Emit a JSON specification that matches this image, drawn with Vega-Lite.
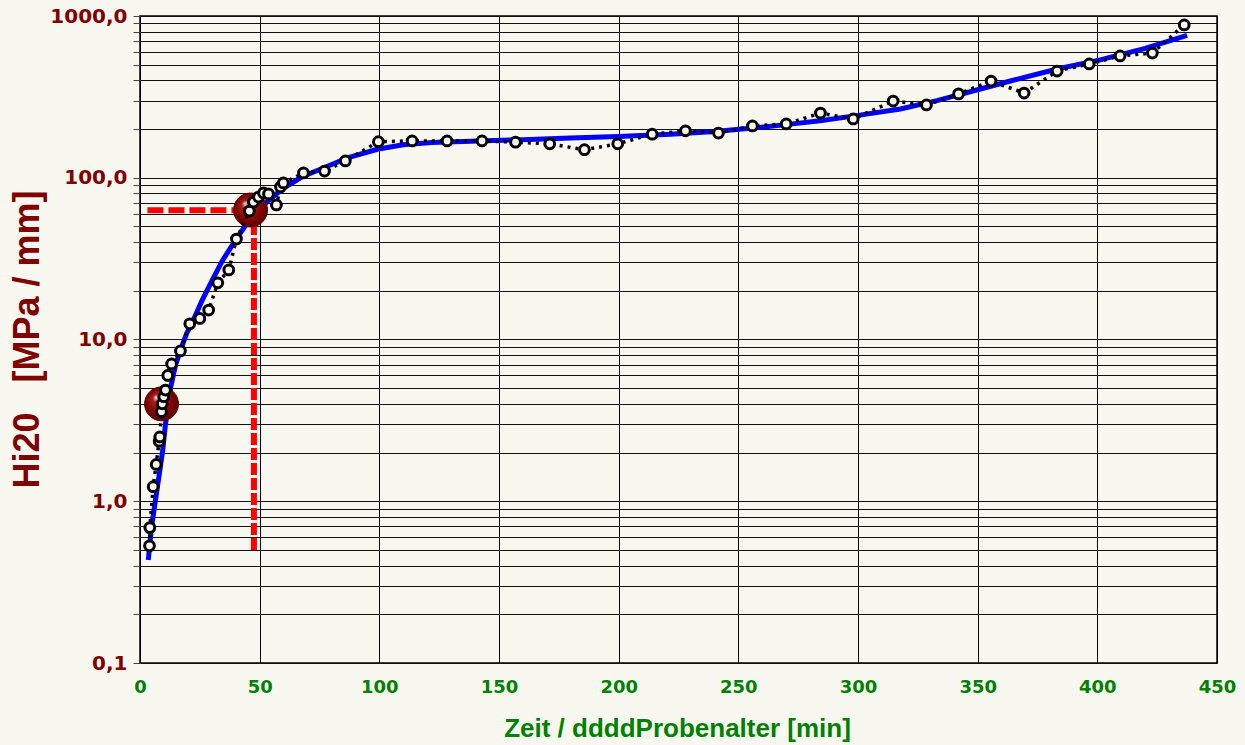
{
  "$schema": "https://vega.github.io/schema/vega-lite/v6.json",
  "width": 1077,
  "height": 647,
  "autosize": "none",
  "padding": {"left": 140, "top": 16, "right": 28, "bottom": 82},
  "background": "#F9F8F0",
  "config": {
    "view": {"stroke": "#000", "strokeWidth": 1.5}
  },
  "datasets": {
    "pts": [
      {"t": 3.97, "h": 0.53}, {"t": 4.1, "h": 0.687}, {"t": 5.5, "h": 1.23}, {"t": 6.77, "h": 1.69},
      {"t": 8.0, "h": 2.35}, {"t": 8.27, "h": 2.5}, {"t": 8.98, "h": 3.58}, {"t": 9.3, "h": 4.0},
      {"t": 9.94, "h": 4.43}, {"t": 10.65, "h": 4.87}, {"t": 11.6, "h": 6.0}, {"t": 13.2, "h": 7.06},
      {"t": 16.9, "h": 8.5}, {"t": 20.8, "h": 12.5}, {"t": 25.0, "h": 13.5}, {"t": 28.7, "h": 15.2},
      {"t": 32.5, "h": 22.4}, {"t": 37.1, "h": 26.9}, {"t": 40.3, "h": 41.8}, {"t": 45.7, "h": 62.2},
      {"t": 47.4, "h": 70.8}, {"t": 49.5, "h": 76}, {"t": 51.6, "h": 80.5}, {"t": 53.7, "h": 79.4},
      {"t": 57.0, "h": 67.9}, {"t": 58.7, "h": 87.7}, {"t": 59.9, "h": 92.9}, {"t": 68.3, "h": 107},
      {"t": 77.1, "h": 110}, {"t": 85.8, "h": 127}, {"t": 99.6, "h": 167}, {"t": 113.7, "h": 169},
      {"t": 128.3, "h": 169}, {"t": 142.9, "h": 169}, {"t": 156.9, "h": 166}, {"t": 171.2, "h": 162},
      {"t": 185.7, "h": 149}, {"t": 199.6, "h": 162}, {"t": 214.0, "h": 186}, {"t": 227.9, "h": 195},
      {"t": 241.7, "h": 189}, {"t": 255.9, "h": 209}, {"t": 270.0, "h": 215}, {"t": 284.3, "h": 251},
      {"t": 298.0, "h": 231}, {"t": 314.7, "h": 298}, {"t": 328.6, "h": 282}, {"t": 342.0, "h": 330},
      {"t": 355.6, "h": 396}, {"t": 369.4, "h": 334}, {"t": 383.2, "h": 457}, {"t": 396.6, "h": 505},
      {"t": 409.5, "h": 566}, {"t": 423.0, "h": 590}, {"t": 436.3, "h": 880}
    ],
    "fit": [
      {"t": 3.47, "h": 0.434}, {"t": 4.68, "h": 0.664}, {"t": 6.3, "h": 0.98}, {"t": 7.85, "h": 1.4},
      {"t": 9.5, "h": 2.07}, {"t": 10.65, "h": 3.0}, {"t": 12.74, "h": 5.0}, {"t": 14.8, "h": 6.9},
      {"t": 16.9, "h": 8.61}, {"t": 19.5, "h": 10.9}, {"t": 22.3, "h": 13.2}, {"t": 26.0, "h": 17.5},
      {"t": 30.2, "h": 23.3}, {"t": 34.3, "h": 30.5}, {"t": 39.9, "h": 41.2}, {"t": 44.0, "h": 50.5},
      {"t": 48.2, "h": 59.5}, {"t": 53.5, "h": 72}, {"t": 59.9, "h": 86}, {"t": 67.5, "h": 101},
      {"t": 76.6, "h": 115}, {"t": 87.0, "h": 133}, {"t": 99.2, "h": 150}, {"t": 110, "h": 160},
      {"t": 122, "h": 165}, {"t": 138, "h": 168}, {"t": 160, "h": 172}, {"t": 179.8, "h": 176},
      {"t": 200, "h": 180}, {"t": 221.6, "h": 186}, {"t": 240, "h": 193}, {"t": 255, "h": 202},
      {"t": 270, "h": 213}, {"t": 285, "h": 226}, {"t": 300, "h": 243}, {"t": 317.7, "h": 266},
      {"t": 333, "h": 300}, {"t": 350, "h": 350}, {"t": 366, "h": 405}, {"t": 383.2, "h": 470},
      {"t": 401.2, "h": 535}, {"t": 420, "h": 630}, {"t": 437.5, "h": 760}
    ],
    "balls": [
      {"t": 9.0, "h": 4.0},
      {"t": 46.2, "h": 63.2}
    ],
    "hline": [{"t": 3.1, "t2": 46, "h": 63}],
    "vline": [{"t": 47.6, "h": 0.5, "h2": 63}]
  },
  "encoding": {
    "x": {
      "field": "t",
      "type": "quantitative",
      "scale": {"domain": [0, 450], "nice": false, "zero": false},
      "axis": {
        "values": [0, 50, 100, 150, 200, 250, 300, 350, 400, 450],
        "labelFont": "DejaVu Sans",
        "labelFontWeight": "bold",
        "labelFontSize": 18,
        "labelColor": "#008000",
        "labelPadding": 15,
        "labelFlush": false,
        "labelOverlap": false,
        "tickSize": 0,
        "domain": false,
        "grid": true,
        "gridColor": "#000",
        "gridWidth": 1,
        "gridOpacity": 1,
        "title": "Zeit / ddddProbenalter [min]",
        "titleFont": "Liberation Sans",
        "titleFontWeight": "bold",
        "titleFontSize": 26,
        "titleColor": "#008000",
        "titleX": 537,
        "titleY": 73,
        "titleAlign": "center",
        "titleBaseline": "alphabetic"
      }
    },
    "y": {
      "field": "h",
      "type": "quantitative",
      "scale": {"type": "log", "domain": [0.1, 1000], "nice": false},
      "axis": {
        "values": [0.1, 0.2, 0.3, 0.4, 0.5, 0.6, 0.7, 0.8, 0.9, 1, 2, 3, 4, 5, 6, 7, 8, 9, 10, 20, 30, 40, 50, 60, 70, 80, 90, 100, 200, 300, 400, 500, 600, 700, 800, 900, 1000],
        "labelExpr": "abs(log(datum.value)/LN10 - round(log(datum.value)/LN10)) < 0.001 ? replace(format(datum.value, '.1f'), '.', ',') : ''",
        "labelFont": "DejaVu Sans",
        "labelFontWeight": "bold",
        "labelFontSize": 20,
        "labelColor": "#800000",
        "labelPadding": 6,
        "labelOverlap": false,
        "tickSize": 7,
        "tickColor": "#444",
        "domain": false,
        "grid": true,
        "gridColor": "#111",
        "gridWidth": 1,
        "gridOpacity": 1,
        "title": "Hi20\u00a0\u00a0\u00a0[MPa / mm]",
        "titleFont": "Liberation Sans",
        "titleFontWeight": "bold",
        "titleFontSize": 36,
        "titleColor": "#800000",
        "titleX": -113,
        "titleY": 323,
        "titleAngle": -90,
        "titleAlign": "center",
        "titleBaseline": "middle"
      }
    }
  },
  "layer": [
    {
      "data": {"name": "fit"},
      "mark": {"type": "line", "color": "#0000FF", "strokeWidth": 5, "interpolate": "linear"}
    },
    {
      "data": {"name": "hline"},
      "mark": {"type": "rule", "color": "#FF0000", "strokeWidth": 6, "strokeDash": [16, 5]},
      "encoding": {"x2": {"field": "t2"}}
    },
    {
      "data": {"name": "vline"},
      "mark": {"type": "rule", "color": "#FF0000", "strokeWidth": 6, "strokeDash": [12, 3]},
      "encoding": {"y2": {"field": "h2"}}
    },
    {
      "data": {"name": "balls"},
      "mark": {
        "type": "point",
        "shape": "circle",
        "size": 1150,
        "filled": true,
        "opacity": 1,
        "fill": {
          "gradient": "radial",
          "x1": 0.33, "y1": 0.3, "r1": 0,
          "x2": 0.5, "y2": 0.5, "r2": 0.55,
          "stops": [
            {"offset": 0, "color": "#f4dede"},
            {"offset": 0.22, "color": "#a82020"},
            {"offset": 0.7, "color": "#800000"},
            {"offset": 1, "color": "#4a0000"}
          ]
        },
        "stroke": "#5a0000",
        "strokeWidth": 1
      }
    },
    {
      "data": {"name": "pts"},
      "mark": {"type": "line", "color": "#000", "strokeWidth": 3.5, "strokeDash": [3, 5]}
    },
    {
      "data": {"name": "pts"},
      "mark": {"type": "point", "shape": "circle", "size": 95, "filled": false, "fill": "#F9F8F0", "fillOpacity": 1, "stroke": "#000", "strokeWidth": 3, "opacity": 1}
    }
  ]
}
